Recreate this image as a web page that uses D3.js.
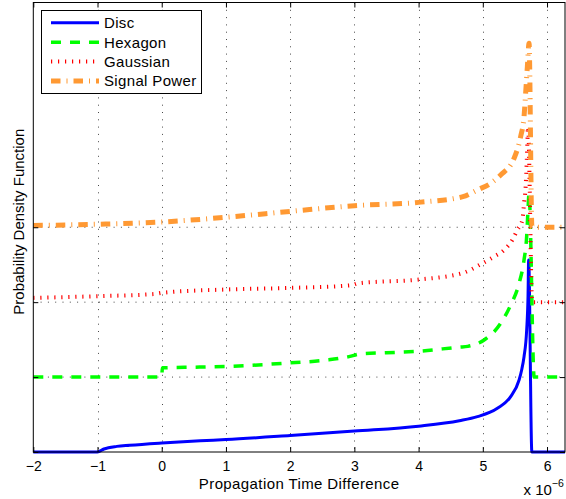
<!DOCTYPE html>
<html lang="en">
<head>
  <meta charset="UTF-8" />
  <title>PDF of Propagation Time Difference</title>
  <script src="https://d3js.org/d3.v7.min.js"></script>
  <style>
    body { margin: 0; background: #fff; }
    svg { display: block; font-family: "Liberation Sans", Arial, Helvetica, sans-serif; }
  </style>
</head>
<body>

<svg width="566" height="499"></svg>

<script>
// tick values (x in units of 1e-6 s)
const xTicks = [-2, -1, 0, 1, 2, 3, 4, 5, 6];
const yTicks = [0, 1, 2, 3];
const xDomain = [-2, 6.28];
const yDomain = [0, 6];

const seriesNames = ["Disc", "Hexagon", "Gaussian", "Signal Power"];
const offsets = [0, 1, 2, 3];   // each curve is shifted up by one unit

// values (relative to each curve's own baseline)
const discX = [-2, -1, -0.9, -0.7, -0.5, 0, 0.6, 1, 2, 3, 4, 4.635, 4.916, 5.227, 5.434, 5.565, 5.605, 5.642, 5.683, 5.704, 5.714, 5.764, 6.28];
const discY = [0, 0, 0.04, 0.075, 0.09, 0.12, 0.15, 0.166, 0.22, 0.28, 0.345, 0.418, 0.472, 0.584, 0.739, 0.961, 1.095, 1.272, 1.629, 2.074, 2.563, 0, 0];

const hexX = [-2, 0, 0.01, 0.59, 1, 2, 2.6, 2.9, 3.1, 3.5, 4, 4.635, 4.765, 5.02, 5.278, 5.434, 5.565, 5.642, 5.683, 5.704, 5.72, 5.80, 6.28];
const hexY = [0, 0, 0.124, 0.133, 0.142, 0.19, 0.23, 0.27, 0.31, 0.325, 0.345, 0.40, 0.41, 0.495, 0.717, 0.962, 1.251, 1.563, 1.874, 2.23, 2.45, 0, 0];

const gaussX = [-2, -1, -0.1, 0, 1, 2, 2.95, 3.05, 4, 4.687, 4.994, 5.176, 5.331, 5.46, 5.538, 5.616, 5.642, 5.667, 5.683, 5.694, 5.704, 5.77, 6.28];
const gaussY = [0.057, 0.08, 0.11, 0.124, 0.169, 0.19, 0.225, 0.25, 0.302, 0.389, 0.519, 0.608, 0.697, 0.83, 0.964, 1.097, 1.32, 1.54, 1.854, 2.12, 2.34, 0, 0];

const powerX = [-2, -1, 0, 1, 2, 3, 4, 4.69, 4.916, 5.123, 5.278, 5.487, 5.589, 5.642, 5.667, 5.694, 5.72, 5.765, 6.28];
const powerY = [0.023, 0.04, 0.07, 0.133, 0.212, 0.288, 0.332, 0.408, 0.498, 0.587, 0.698, 0.921, 1.209, 1.476, 1.789, 2.145, 2.456, 0, 0];

const seriesX = [discX, hexX, gaussX, powerX];
const seriesY = [discY, hexY, gaussY, powerY];

const styles = [
  { color: "#0000ff", width: 3,   dash: null },
  { color: "#00ff00", width: 3.5, dash: "10,9" },
  { color: "#ff0000", width: 4,   dash: "1.2,5.8" },
  { color: "#ff9933", width: 5,   dash: "9.5,6,1,6" }
];

const svg = d3.select("svg");
const plotLeft = 33.3, plotRight = 565, plotTop = 2.5, plotBottom = 452;

const x = d3.scaleLinear().domain(xDomain).range([plotLeft, plotRight]);
const y = d3.scaleLinear().domain(yDomain).range([plotBottom, plotTop]);

// grid
const grid = svg.append("g")
  .attr("stroke", "#333")
  .attr("stroke-width", 0.9)
  .attr("stroke-dasharray", "1,6.3");
grid.selectAll(".vg")
  .data(xTicks.filter(d => d > xDomain[0]))
  .enter().append("line")
  .attr("x1", d => Math.round(x(d)) + 0.5).attr("x2", d => Math.round(x(d)) + 0.5)
  .attr("y1", plotTop).attr("y2", plotBottom);
grid.selectAll(".hg")
  .data(yTicks.filter(d => d > yDomain[0]))
  .enter().append("line")
  .attr("x1", plotLeft).attr("x2", plotRight)
  .attr("y1", d => y(d)).attr("y2", d => y(d));

// curves
const line = d3.line()
  .x(d => x(d[0]))
  .y(d => y(d[1]))
  .curve(d3.curveMonotoneX);
seriesNames.forEach((name, i) => {
  const pts = seriesX[i].map((v, j) => [v, seriesY[i][j] + offsets[i]]);
  svg.append("path")
    .datum(pts)
    .attr("fill", "none")
    .attr("stroke", styles[i].color)
    .attr("stroke-width", styles[i].width)
    .attr("stroke-dasharray", styles[i].dash)
    .attr("stroke-linejoin", "round")
    .attr("d", line);
});

// axes: ticks inward on all four sides
const xAxis = svg.append("g")
  .attr("transform", `translate(0,${plotBottom})`)
  .call(d3.axisBottom(x).tickValues(xTicks).tickSize(-5).tickPadding(8.7));
svg.append("g")
  .attr("transform", `translate(0,${plotTop})`)
  .call(d3.axisTop(x).tickValues(xTicks).tickSize(-5).tickFormat(""));
svg.append("g")
  .attr("transform", `translate(${plotLeft},0)`)
  .call(d3.axisLeft(y).tickValues(yTicks).tickSize(-5).tickFormat(""));
svg.append("g")
  .attr("transform", `translate(${plotRight},0)`)
  .call(d3.axisRight(y).tickValues(yTicks).tickSize(-5).tickFormat(""));
svg.selectAll(".domain").remove();
svg.selectAll(".tick line").attr("stroke", "#000");
xAxis.selectAll("text")
  .attr("fill", "#000")
  .style("font-size", "14px")
  .style("font-family", "'Liberation Sans', Arial, sans-serif");

// box
svg.append("rect")
  .attr("x", plotLeft).attr("y", plotTop)
  .attr("width", plotRight - plotLeft).attr("height", plotBottom - plotTop)
  .attr("fill", "none")
  .attr("stroke", "#000")
  .attr("stroke-width", 1);

// labels
svg.append("text")
  .attr("x", (plotLeft + plotRight) / 2)
  .attr("y", 488.5)
  .attr("text-anchor", "middle")
  .style("font-size", "15px")
  .style("letter-spacing", "0.4px")
  .text("Propagation Time Difference");

svg.append("text")
  .attr("transform", "translate(23.5,221.7) rotate(-90)")
  .attr("text-anchor", "middle")
  .style("font-size", "15px")
  .text("Probability Density Function");

const expo = svg.append("text")
  .attr("x", 523.5)
  .attr("y", 495)
  .style("font-size", "15px")
  .text("x 10");
expo.append("tspan")
  .attr("dy", -8)
  .style("font-size", "10.5px")
  .text("\u22126");

// legend
const legend = svg.append("g");
legend.append("rect")
  .attr("x", 41.5).attr("y", 10.5)
  .attr("width", 160).attr("height", 83)
  .attr("fill", "#fff")
  .attr("stroke", "#000")
  .attr("stroke-width", 1);
const legendY = [22.7, 42.3, 61.5, 81];
seriesNames.forEach((name, i) => {
  legend.append("line")
    .attr("x1", 51).attr("x2", 99)
    .attr("y1", legendY[i]).attr("y2", legendY[i])
    .attr("stroke", styles[i].color)
    .attr("stroke-width", styles[i].width)
    .attr("stroke-dasharray", styles[i].dash);
  legend.append("text")
    .attr("x", 104)
    .attr("y", legendY[i] + 5.2)
    .style("font-size", "15px")
    .style("letter-spacing", "0.35px")
    .text(name);
});
</script>

</body>
</html>
